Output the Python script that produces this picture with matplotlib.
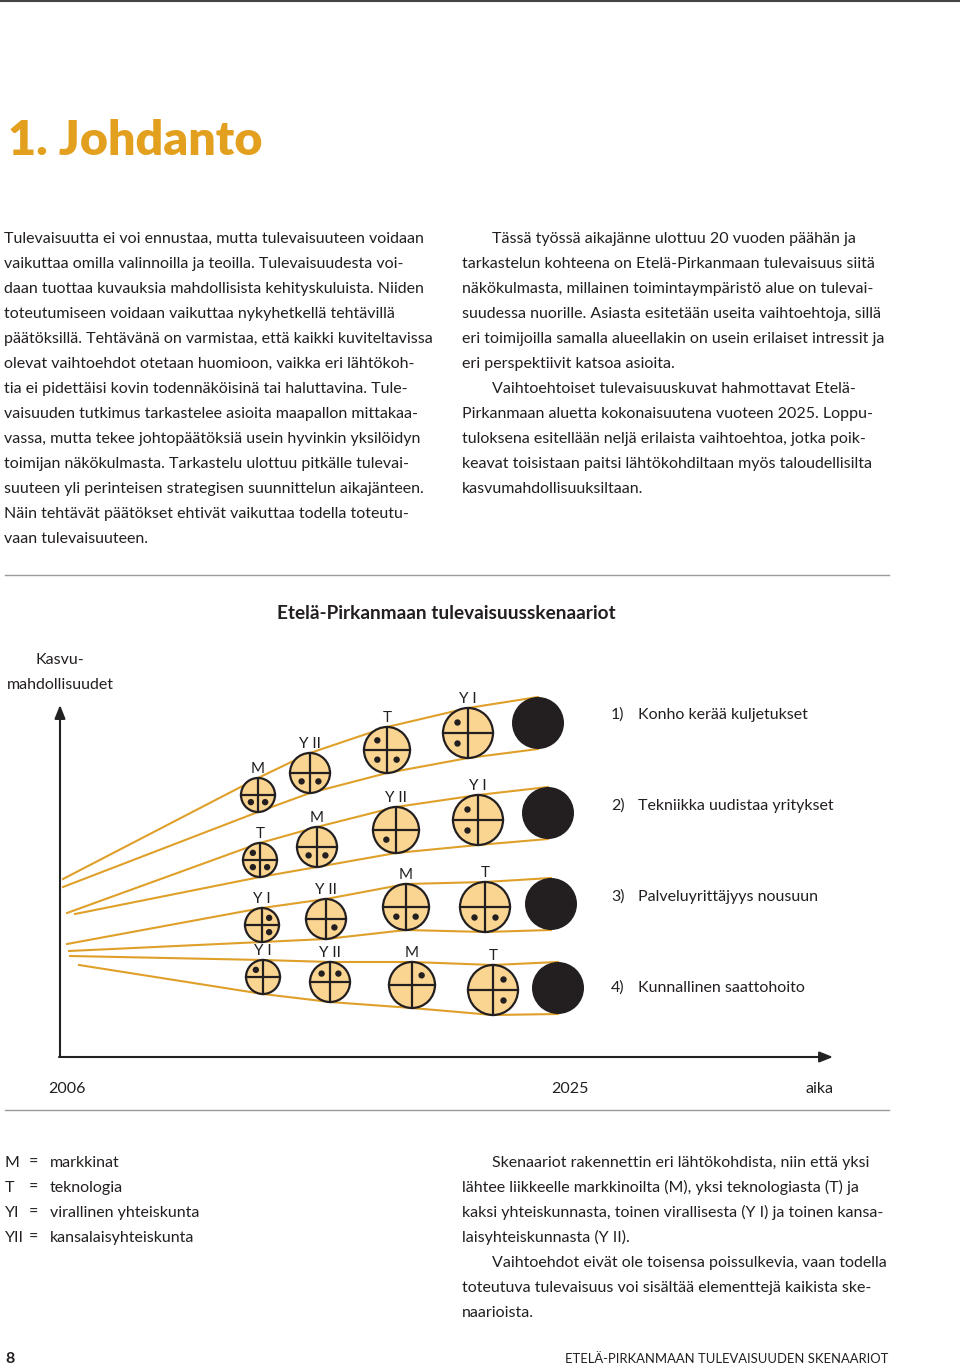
import matplotlib
matplotlib.use("Agg")
import matplotlib.pyplot as plt
from matplotlib.patches import Circle, FancyArrowPatch

# page text
heading = "1. Johdanto"
left_col = [
    "Tulevaisuutta ei voi ennustaa, mutta tulevaisuuteen voidaan",
    "vaikuttaa omilla valinnoilla ja teoilla. Tulevaisuudesta voi-",
    "daan tuottaa kuvauksia mahdollisista kehityskuluista. Niiden",
    "toteutumiseen voidaan vaikuttaa nykyhetkellä tehtävillä",
    "päätöksillä. Tehtävänä on varmistaa, että kaikki kuviteltavissa",
    "olevat vaihtoehdot otetaan huomioon, vaikka eri lähtökoh-",
    "tia ei pidettäisi kovin todennäköisinä tai haluttavina. Tule-",
    "vaisuuden tutkimus tarkastelee asioita maapallon mittakaa-",
    "vassa, mutta tekee johtopäätöksiä usein hyvinkin yksilöidyn",
    "toimijan näkökulmasta. Tarkastelu ulottuu pitkälle tulevai-",
    "suuteen yli perinteisen strategisen suunnittelun aikajänteen.",
    "Näin tehtävät päätökset ehtivät vaikuttaa todella toteutu-",
    "vaan tulevaisuuteen.",
]
right_col = [
    "Tässä työssä aikajänne ulottuu 20 vuoden päähän ja",
    "tarkastelun kohteena on Etelä-Pirkanmaan tulevaisuus siitä",
    "näkökulmasta, millainen toimintaympäristö alue on tulevai-",
    "suudessa nuorille. Asiasta esitetään useita vaihtoehtoja, sillä",
    "eri toimijoilla samalla alueellakin on usein erilaiset intressit ja",
    "eri perspektiivit katsoa asioita.",
    "Vaihtoehtoiset tulevaisuuskuvat hahmottavat Etelä-",
    "Pirkanmaan aluetta kokonaisuutena vuoteen 2025. Loppu-",
    "tuloksena esitellään neljä erilaista vaihtoehtoa, jotka poik-",
    "keavat toisistaan paitsi lähtökohdiltaan myös taloudellisilta",
    "kasvumahdollisuuksiltaan.",
]
right_indent = [True, False, False, False, False, False, True, False, False, False, False]

diagram_title = "Etelä-Pirkanmaan tulevaisuusskenaariot"
scenario_names = ["Konho kerää kuljetukset", "Tekniikka uudistaa yritykset",
                  "Palveluyrittäjyys nousuun", "Kunnallinen saattohoito"]

# circles per scenario (page pixel units)
labels = [["M", "Y II", "T", "Y I"],
          ["T", "M", "Y II", "Y I"],
          ["Y I", "Y II", "M", "T"],
          ["Y I", "Y II", "M", "T"]]
circle_x = [[258, 310, 387, 468],
            [260, 317, 396, 478],
            [262, 326, 406, 485],
            [263, 330, 412, 493]]
circle_y = [[795, 773, 750, 733],
            [860, 847, 830, 820],
            [925, 919, 907, 907],
            [977, 982, 985, 990]]
circle_r = [17, 20, 23, 25]
dots = [[["BL", "BR"], ["BL", "BR"], ["TL", "BL", "BR"], ["TL", "BL"]],
        [["TL", "BL", "BR"], ["BL", "BR"], ["BL"], ["TL", "BL"]],
        [["TR", "BR"], ["BR"], ["BL", "BR"], ["BL", "BR"]],
        [["TL"], ["TL", "TR"], ["TR"], ["TR", "BR"]]]
end_x = [538, 548, 551, 558]
end_y = [723, 813, 904, 988]
end_r = 26
start_upper = [(63, 879), (67, 913), (67, 944), (70, 956)]
start_lower = [(63, 887), (75, 914), (69, 951), (79, 965)]

legend_keys = ["M", "T", "YI", "YII"]
legend_vals = ["markkinat", "teknologia", "virallinen yhteiskunta", "kansalaisyhteiskunta"]
bottom_right = [
    "Skenaariot rakennettin eri lähtökohdista, niin että yksi",
    "lähtee liikkeelle markkinoilta (M), yksi teknologiasta (T) ja",
    "kaksi yhteiskunnasta, toinen virallisesta (Y I) ja toinen kansa-",
    "laisyhteiskunnasta (Y II).",
    "Vaihtoehdot eivät ole toisensa poissulkevia, vaan todella",
    "toteutuva tulevaisuus voi sisältää elementtejä kaikista ske-",
    "naarioista.",
]
bottom_indent = [True, False, False, False, True, False, False]
footer = "ETELÄ-PIRKANMAAN TULEVAISUUDEN SKENAARIOT"

FONT = ["Lato", "DejaVu Sans"]
TXT = "#231F20"
GOLD = "#DFA02A"
FILL = "#FAD591"

fig = plt.figure(figsize=(9.6, 13.67), dpi=100)
ax = fig.add_axes([0, 0, 1, 1])
ax.set_xlim(0, 960)
ax.set_ylim(1367, 0)
ax.axis("off")
renderer = fig.canvas.get_renderer()


def fit_size(s, target, weight="normal"):
    t = ax.text(0, 0, s, fontsize=10, family=FONT, fontweight=weight)
    w = t.get_window_extent(renderer).width
    t.remove()
    return 10 * target / w


def put(x, y, s, size, **kw):
    kw.setdefault("color", TXT)
    ax.text(x, y, s, fontsize=size, family=FONT, va="baseline", **kw)


# top rule and heading
ax.plot([0, 960], [1, 1], color="#444444", lw=1.5)
put(8, 155, heading, fit_size(heading, 256, "heavy"), fontweight="heavy", color="#E2A01E")

# body columns
fs_body = fit_size(left_col[4], 427)
for i, s in enumerate(left_col):
    put(4, 243 + 25 * i, s, fs_body)
for i, s in enumerate(right_col):
    put(492 if right_indent[i] else 462, 243 + 25 * i, s, fs_body)

# rules
ax.plot([5, 889], [575, 575], color="#9A9A9A", lw=1)
ax.plot([5, 889], [1110, 1110], color="#9A9A9A", lw=1)

# diagram title and axis labels
put(446, 619, diagram_title, fit_size(diagram_title, 339, "bold"),
    fontweight="bold", ha="center")
put(60, 664, "Kasvu-", fs_body, ha="center")
put(60, 689, "mahdollisuudet", fs_body, ha="center")
for x, s in [(67, "2006"), (570, "2025"), (820, "aika")]:
    put(x, 1093, s, fs_body, ha="center")

# axes arrows
arrow = "-|>,head_length=8,head_width=3.2"
ax.add_patch(FancyArrowPatch((60, 1057), (60, 705), arrowstyle=arrow, mutation_scale=1,
                             color="#222222", lw=1.5, shrinkA=0, shrinkB=0))
ax.add_patch(FancyArrowPatch((59, 1057), (833, 1057), arrowstyle=arrow, mutation_scale=1,
                             color="#222222", lw=1.5, shrinkA=0, shrinkB=0))

# scenario funnels
quad = {"TL": (-1, -1), "TR": (1, -1), "BL": (-1, 1), "BR": (1, 1)}
for k in range(4):
    xs = [start_upper[k][0]] + circle_x[k] + [end_x[k]]
    ys_up = [start_upper[k][1]] + [cy - r for cy, r in zip(circle_y[k], circle_r)] + [end_y[k] - end_r]
    ax.plot(xs, ys_up, color=GOLD, lw=1.5, zorder=1, solid_joinstyle="round")
    xs = [start_lower[k][0]] + circle_x[k] + [end_x[k]]
    ys_lo = [start_lower[k][1]] + [cy + r for cy, r in zip(circle_y[k], circle_r)] + [end_y[k] + end_r]
    ax.plot(xs, ys_lo, color=GOLD, lw=1.5, zorder=1, solid_joinstyle="round")

    for j in range(4):
        cx, cy, r = circle_x[k][j], circle_y[k][j], circle_r[j]
        ax.add_patch(Circle((cx, cy), r, facecolor=FILL, edgecolor=TXT, lw=1.6, zorder=3))
        ax.plot([cx - r, cx + r], [cy, cy], color=TXT, lw=1.6, zorder=4)
        ax.plot([cx, cx], [cy - r, cy + r], color=TXT, lw=1.6, zorder=4)
        for q in dots[k][j]:
            dx, dy = quad[q]
            ax.add_patch(Circle((cx + dx * 0.42 * r, cy + dy * 0.42 * r), 3.2,
                                facecolor=TXT, edgecolor="none", zorder=5))
        put(cx, cy - r - 5, labels[k][j], fs_body * 0.95, ha="center")

    ax.add_patch(Circle((end_x[k], end_y[k]), end_r, facecolor=TXT, edgecolor="none", zorder=3))
    put(611, 719 + 91 * k, f"{k + 1})", fs_body)
    put(638, 719 + 91 * k, scenario_names[k], fs_body)

# bottom legend and text
fs_small = fit_size("Skenaariot rakennettin eri lähtökohdista, niin että yksi", 379)
for i in range(4):
    put(5, 1167 + 25 * i, legend_keys[i], fs_small)
    put(29, 1167 + 25 * i, "=", fs_small)
    put(50, 1167 + 25 * i, legend_vals[i], fs_small)
for i, s in enumerate(bottom_right):
    put(492 if bottom_indent[i] else 462, 1167 + 25 * i, s, fs_small)

# footer
put(5, 1363, "8", fs_small, fontweight="bold")
put(888, 1363, footer, fit_size(footer, 321), ha="right")

fig.savefig("out.png", dpi=100)
